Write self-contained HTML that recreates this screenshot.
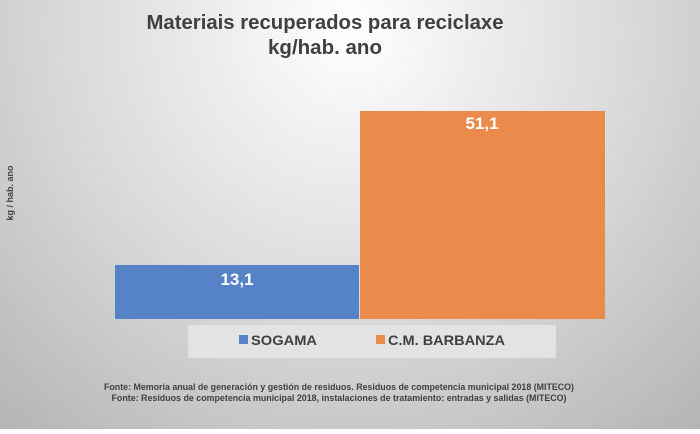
<!DOCTYPE html>
<html><head><meta charset="utf-8"><style>
html,body{margin:0;padding:0;}
body{width:700px;height:429px;overflow:hidden;}
</style></head><body>
<svg width="700" height="429" viewBox="0 0 700 429" xmlns="http://www.w3.org/2000/svg" font-family="Liberation Sans, sans-serif">
<defs>
<radialGradient id="bg" cx="350" cy="30" r="560" gradientUnits="userSpaceOnUse">
<stop offset="0" stop-color="#ffffff"/>
<stop offset="0.55" stop-color="#d6d6d6"/>
<stop offset="1" stop-color="#b0b0b0"/>
</radialGradient>
</defs>
<rect width="700" height="429" fill="url(#bg)"/>
<text x="325" y="29" text-anchor="middle" font-size="20" font-weight="bold" fill="#404040" textLength="357" lengthAdjust="spacingAndGlyphs">Materiais recuperados para reciclaxe</text>
<text x="325" y="54" text-anchor="middle" font-size="20" font-weight="bold" fill="#404040" textLength="114" lengthAdjust="spacingAndGlyphs">kg/hab. ano</text>
<text transform="translate(13,193) rotate(-90)" text-anchor="middle" font-size="9" font-weight="bold" fill="#404040">kg / hab. ano</text>
<rect x="115" y="265" width="244" height="54" fill="#5682c8"/>
<rect x="360" y="111" width="245" height="208" fill="#eb8b4b"/>
<text x="237" y="285" text-anchor="middle" font-size="17" font-weight="bold" fill="#ffffff">13,1</text>
<text x="482" y="129" text-anchor="middle" font-size="17" font-weight="bold" fill="#ffffff">51,1</text>
<rect x="188" y="325" width="368" height="33" fill="#e3e3e3"/>
<rect x="239" y="335" width="9" height="9" fill="#5682c8"/>
<text x="251" y="345" font-size="14" font-weight="bold" fill="#404040" textLength="66" lengthAdjust="spacingAndGlyphs">SOGAMA</text>
<rect x="376" y="335" width="9" height="9" fill="#eb8b4b"/>
<text x="388" y="345" font-size="14" font-weight="bold" fill="#404040" textLength="117" lengthAdjust="spacingAndGlyphs">C.M. BARBANZA</text>
<text x="339" y="390" text-anchor="middle" font-size="9" font-weight="bold" fill="#404040" textLength="470" lengthAdjust="spacingAndGlyphs">Fonte: Memoria anual de generación y gestión de residuos. Residuos de competencia municipal 2018 (MITECO)</text>
<text x="339" y="401" text-anchor="middle" font-size="9" font-weight="bold" fill="#404040" textLength="455" lengthAdjust="spacingAndGlyphs">Fonte: Residuos de competencia municipal 2018, instalaciones de tratamiento: entradas y salidas (MITECO)</text>
</svg>
</body></html>
